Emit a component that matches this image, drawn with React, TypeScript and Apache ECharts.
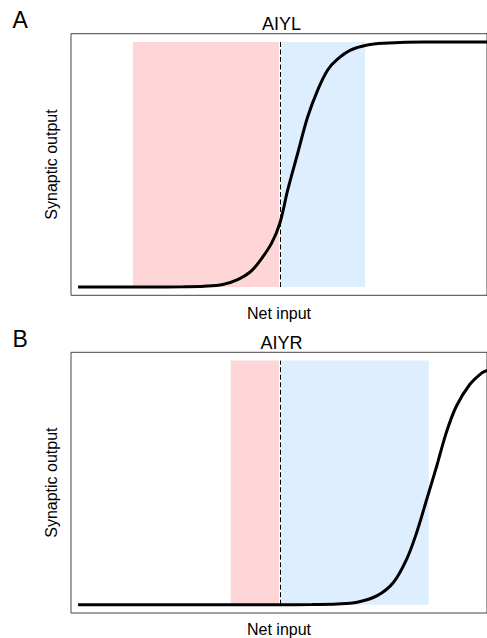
import React, { useEffect, useRef } from "react";
import * as echarts from "echarts";

// Panel A (AIYL): net input vs synaptic output
const netInputA = [1.7, 18.8, 27.0, 32.0, 36.5, 40.2, 43.0, 45.0, 48.2, 50.2, 52.1, 54.5, 56.9, 59.3, 61.7, 64.0, 67.2, 71.2, 75.0, 85.0, 100];
const outputA = [0, 0, 0.001, 0.003, 0.01, 0.031, 0.06, 0.097, 0.178, 0.26, 0.396, 0.546, 0.695, 0.804, 0.886, 0.929, 0.967, 0.988, 0.995, 1.0, 1.0];

// Panel B (AIYR)
const netInputB = [1.7, 30, 50, 58, 64.0, 68.8, 73.6, 77.5, 80.7, 83.1, 85.5, 87.9, 90.2, 92.6, 95.8, 98.7, 100];
const outputB = [0, 0, 0, 0.001, 0.003, 0.01, 0.037, 0.091, 0.187, 0.296, 0.431, 0.567, 0.704, 0.812, 0.901, 0.949, 0.96];

// Shaded regions [start, end] in net-input units, and threshold (dashed line)
const pinkA = [14.9, 50.0];
const blueA = [50.5, 70.7];
const thresholdA = 50.25;
const pinkB = [38.4, 50.0];
const blueB = [50.5, 86.0];
const thresholdB = 50.25;

const panelLetters = ["A", "B"];
const panelTitles = ["AIYL", "AIYR"];
const xName = "Net input";
const yName = "Synaptic output";

const PINK = "#FFD6D7";
const BLUE = "#DDEEFE";
const FONT = "Liberation Sans, Arial, Helvetica, sans-serif";

function zip(xs: number[], ys: number[]) {
  return xs.map((x, i) => [x, ys[i]]);
}

export default function App() {
  const ref = useRef<HTMLDivElement>(null);
  useEffect(() => {
    if (!ref.current) return;
    const chart = echarts.init(ref.current, null, { renderer: "svg" });
    const grids = [
      { left: 71, top: 33.7, width: 420, height: 261.6 },
      { left: 71, top: 352.3, width: 420, height: 261.7 },
    ];
    const panels = [
      { xs: netInputA, ys: outputA, pink: pinkA, blue: blueA, th: thresholdA },
      { xs: netInputB, ys: outputB, pink: pinkB, blue: blueB, th: thresholdB },
    ];
    const xNameGaps = [10, 8];
    const series: any[] = [];
    panels.forEach((p, i) => {
      series.push({
        type: "line",
        xAxisIndex: i,
        yAxisIndex: i,
        data: [],
        z: 1,
        silent: true,
        markArea: {
          silent: true,
          data: [
            [
              { xAxis: p.pink[0], yAxis: 0, itemStyle: { color: PINK } },
              { xAxis: p.pink[1], yAxis: 1 },
            ],
            [
              { xAxis: p.blue[0], yAxis: 0, itemStyle: { color: BLUE } },
              { xAxis: p.blue[1], yAxis: 1 },
            ],
          ],
        },
        markLine: {
          silent: true,
          symbol: "none",
          label: { show: false },
          lineStyle: { color: "#000", width: 1, type: [5, 2.5] },
          data: [[{ coord: [p.th, 0] }, { coord: [p.th, 1] }]],
        },
      });
      series.push({
        type: "line",
        xAxisIndex: i,
        yAxisIndex: i,
        data: zip(p.xs, p.ys),
        z: 5,
        showSymbol: false,
        smooth: 0.35,
        lineStyle: { color: "#000", width: 3 },
        silent: true,
      });
    });

    chart.setOption({
      animation: false,
      grid: grids.map((g) => ({
        ...g,
        show: true,
        borderColor: "#444",
        borderWidth: 1,
        backgroundColor: "transparent",
      })),
      xAxis: grids.map((_, i) => ({
        type: "value",
        gridIndex: i,
        min: 0,
        max: 100,
        name: xName,
        nameLocation: "middle",
        nameGap: xNameGaps[i],
        nameTextStyle: { fontSize: 16, color: "#000", fontFamily: FONT, verticalAlign: "top" },
        axisLine: { show: false },
        axisTick: { show: false },
        axisLabel: { show: false },
        splitLine: { show: false },
      })),
      yAxis: grids.map((_, i) => ({
        type: "value",
        gridIndex: i,
        min: -0.034,
        max: 1.034,
        name: yName,
        nameLocation: "middle",
        nameRotate: 90,
        nameGap: 12,
        nameTextStyle: { fontSize: 16, color: "#000", fontFamily: FONT },
        axisLine: { show: false },
        axisTick: { show: false },
        axisLabel: { show: false },
        splitLine: { show: false },
      })),
      graphic: [
        {
          type: "text",
          x: 12.5,
          y: 20,
          style: { text: panelLetters[0], font: `23px ${FONT}`, fill: "#000", textAlign: "left", textVerticalAlign: "middle" },
        },
        {
          type: "text",
          x: 12.5,
          y: 339.3,
          style: { text: panelLetters[1], font: `23px ${FONT}`, fill: "#000", textAlign: "left", textVerticalAlign: "middle" },
        },
        {
          type: "text",
          x: 281.5,
          y: 24,
          style: { text: panelTitles[0], font: `18px ${FONT}`, fill: "#000", textAlign: "center", textVerticalAlign: "middle" },
        },
        {
          type: "text",
          x: 281.5,
          y: 343.3,
          style: { text: panelTitles[1], font: `18px ${FONT}`, fill: "#000", textAlign: "center", textVerticalAlign: "middle" },
        },
      ],
      series,
    });
    return () => chart.dispose();
  }, []);
  return (
    <div
      ref={ref}
      style={{ position: "absolute", left: 0, top: 0, width: 487, height: 638 }}
    />
  );
}
